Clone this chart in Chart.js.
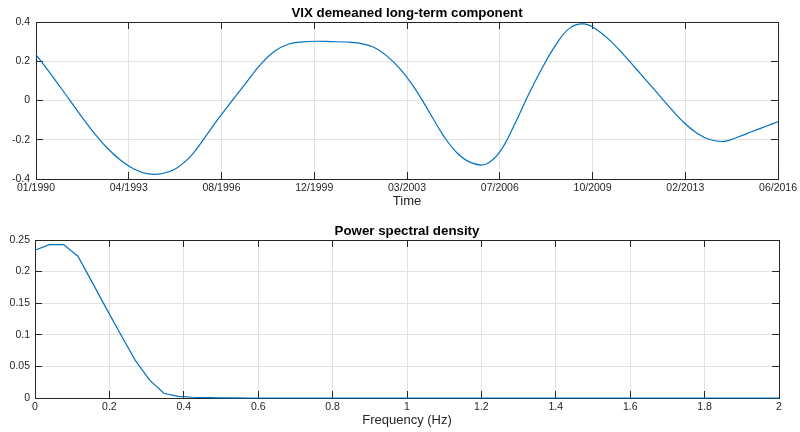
<!DOCTYPE html>
<html>
<head>
<meta charset="utf-8">
<script src="https://cdn.jsdelivr.net/npm/chart.js@4.4.1/dist/chart.umd.min.js"></script>
<style>
  body { margin: 0; background: #fff; }
  canvas { display: block; }
</style>
</head>
<body>
<canvas id="vixChart" width="800" height="216"></canvas>
<canvas id="psdChart" width="800" height="216"></canvas>
<script>
// top panel: long-term component, read every half year
const years = [1990.0, 1990.5, 1991.0, 1991.5, 1992.0, 1992.5, 1993.0, 1993.5, 1994.0, 1994.5,
  1995.0, 1995.5, 1996.0, 1996.5, 1997.0, 1997.5, 1998.0, 1998.5, 1999.0, 1999.5,
  2000.0, 2000.5, 2001.0, 2001.5, 2002.0, 2002.5, 2003.0, 2003.5, 2004.0, 2004.5,
  2005.0, 2005.5, 2006.0, 2006.5, 2007.0, 2007.5, 2008.0, 2008.5, 2009.0, 2009.5,
  2010.0, 2010.5, 2011.0, 2011.5, 2012.0, 2012.5, 2013.0, 2013.5, 2014.0, 2014.5,
  2015.0, 2015.5, 2016.0, 2016.4];
const vixLong = [0.234, 0.140, 0.042, -0.058, -0.153, -0.237, -0.303, -0.350, -0.374, -0.372,
  -0.345, -0.285, -0.190, -0.090, 0.003, 0.095, 0.185, 0.252, 0.288, 0.299,
  0.302, 0.300, 0.298, 0.292, 0.273, 0.225, 0.154, 0.057, -0.061, -0.180,
  -0.270, -0.318, -0.325, -0.262, -0.130, 0.023, 0.163, 0.285, 0.370, 0.390,
  0.356, 0.295, 0.218, 0.137, 0.055, -0.027, -0.105, -0.165, -0.200, -0.208,
  -0.185, -0.157, -0.130, -0.108];
const tickYears = [1990, 1993.3, 1996.6, 1999.9, 2003.2, 2006.5, 2009.8, 2013.1, 2016.4];
const tickLabels = ['01/1990', '04/1993', '08/1996', '12/1999', '03/2003', '07/2006', '10/2009', '02/2013', '06/2016'];

// bottom panel: power spectral density
const freq = [0, 0.0385, 0.0769, 0.1154, 0.1538, 0.1923, 0.2308, 0.2692, 0.3077, 0.3462,
  0.3846, 0.4231, 0.4615, 0.5, 0.5385, 0.5769, 0.6154, 0.6538, 0.6923, 0.7308,
  0.7692, 0.8077, 0.8462, 0.8846, 0.9231, 0.9615, 1, 1.0385, 1.0769, 1.1154,
  1.1538, 1.1923, 1.2308, 1.2692, 1.3077, 1.3462, 1.3846, 1.4231, 1.4615, 1.5,
  1.5385, 1.5769, 1.6154, 1.6538, 1.6923, 1.7308, 1.7692, 1.8077, 1.8462, 1.8846,
  1.9231, 1.9615, 2];
const psd = [0.2337, 0.2427, 0.2427, 0.2244, 0.183, 0.141, 0.100, 0.060, 0.0286, 0.0075,
  0.0027, 0.0012, 0.0005, 0.0002, 0.0001, 0, 0, 0, 0, 0,
  0, 0, 0, 0, 0, 0, 0, 0, 0, 0,
  0, 0, 0, 0, 0, 0, 0, 0, 0, 0,
  0, 0, 0, 0, 0, 0, 0, 0, 0, 0,
  0, 0, 0];

const FONT = '"Liberation Sans", Arial, Helvetica, sans-serif';
const AXIS_COLOR = '#262626';
const GRID_COLOR = '#e2e2e2';
const LINE_COLOR = '#0072BD';

// matlab style box with inward ticks on all sides
const boxPlugin = {
  id: 'boxFrame',
  beforeDatasetsDraw(chart) {
    const { ctx, chartArea: a, scales: { x, y } } = chart;
    const len = 7;
    const align = p => Math.round(p - 0.5) + 0.5;
    ctx.save();
    ctx.strokeStyle = AXIS_COLOR;
    ctx.lineWidth = 1;
    ctx.beginPath();
    x.ticks.forEach(t => {
      const px = align(x.getPixelForValue(t.value));
      ctx.moveTo(px, a.bottom); ctx.lineTo(px, a.bottom - len);
      ctx.moveTo(px, a.top); ctx.lineTo(px, a.top + len);
    });
    y.ticks.forEach(t => {
      const py = align(y.getPixelForValue(t.value));
      ctx.moveTo(a.left, py); ctx.lineTo(a.left + len, py);
      ctx.moveTo(a.right, py); ctx.lineTo(a.right - len, py);
    });
    ctx.stroke();
    ctx.strokeRect(a.left + 0.5, a.top + 0.5, a.width, a.height);
    ctx.restore();
  }
};

// title centred over the plot box, not the canvas
const panelTitle = {
  id: 'panelTitle',
  afterDraw(chart, args, opts) {
    const { ctx, chartArea: a } = chart;
    ctx.save();
    ctx.font = 'bold 13.3px ' + FONT;
    ctx.fillStyle = '#000';
    ctx.textAlign = 'center';
    ctx.textBaseline = 'alphabetic';
    ctx.fillText(opts.text, (a.left + a.right) / 2, opts.baseline);
    ctx.restore();
  }
};

function tickFont() {
  return { family: FONT, size: 10.5 };
}

// plain number labels like 0, 0.05, 0.1, 2
function plainNumber(v) {
  return String(parseFloat(Number(v).toFixed(4)));
}

new Chart(document.getElementById('vixChart'), {
  type: 'line',
  data: {
    datasets: [{
      data: years.map((t, i) => ({ x: t, y: vixLong[i] })),
      borderColor: LINE_COLOR,
      borderWidth: 1.2,
      pointRadius: 0,
      tension: 0.4,
      fill: false,
      clip: false,
    }]
  },
  options: {
    responsive: false,
    animation: false,
    layout: { padding: { left: 0, right: 21, top: 22, bottom: 0 } },
    plugins: {
      legend: { display: false },
      tooltip: { enabled: false },
      panelTitle: { text: 'VIX demeaned long-term component', baseline: 17 },
    },
    scales: {
      x: {
        type: 'linear',
        min: 1990,
        max: 2016.4,
        afterBuildTicks: s => { s.ticks = tickYears.map(v => ({ value: v })); },
        afterFit: s => { s.height = 37; },
        ticks: {
          callback: (v, i) => tickLabels[i],
          color: AXIS_COLOR, font: tickFont(), padding: 3,
          maxRotation: 0, autoSkip: false,
        },
        grid: { color: GRID_COLOR, drawTicks: false },
        border: { display: false },
        title: {
          display: true, text: 'Time', color: AXIS_COLOR,
          font: { family: FONT, size: 13 }, padding: { top: 0, bottom: 7.2 },
        },
      },
      y: {
        min: -0.4,
        max: 0.4,
        afterFit: s => { s.width = 36; },
        ticks: { stepSize: 0.2, color: AXIS_COLOR, font: tickFont(), padding: 6, callback: plainNumber },
        grid: { color: GRID_COLOR, drawTicks: false },
        border: { display: false },
      },
    },
  },
  plugins: [boxPlugin, panelTitle],
});

new Chart(document.getElementById('psdChart'), {
  type: 'line',
  data: {
    datasets: [{
      data: freq.map((f, i) => ({ x: f, y: psd[i] })),
      borderColor: LINE_COLOR,
      borderWidth: 1.2,
      pointRadius: 0,
      tension: 0,
      fill: false,
      clip: false,
    }]
  },
  options: {
    responsive: false,
    animation: false,
    layout: { padding: { left: 0, right: 21, top: 24, bottom: 0 } },
    plugins: {
      legend: { display: false },
      tooltip: { enabled: false },
      panelTitle: { text: 'Power spectral density', baseline: 19 },
    },
    scales: {
      x: {
        type: 'linear',
        min: 0,
        max: 2,
        afterFit: s => { s.height = 34; },
        ticks: { stepSize: 0.2, color: AXIS_COLOR, font: tickFont(), padding: 3, maxRotation: 0, callback: plainNumber },
        grid: { color: GRID_COLOR, drawTicks: false },
        border: { display: false },
        title: {
          display: true, text: 'Frequency (Hz)', color: AXIS_COLOR,
          font: { family: FONT, size: 13 }, padding: { top: 0, bottom: 4.2 },
        },
      },
      y: {
        min: 0,
        max: 0.25,
        afterFit: s => { s.width = 35; },
        ticks: { stepSize: 0.05, color: AXIS_COLOR, font: tickFont(), padding: 5, callback: plainNumber },
        grid: { color: GRID_COLOR, drawTicks: false },
        border: { display: false },
      },
    },
  },
  plugins: [boxPlugin, panelTitle],
});
</script>
</body>
</html>
